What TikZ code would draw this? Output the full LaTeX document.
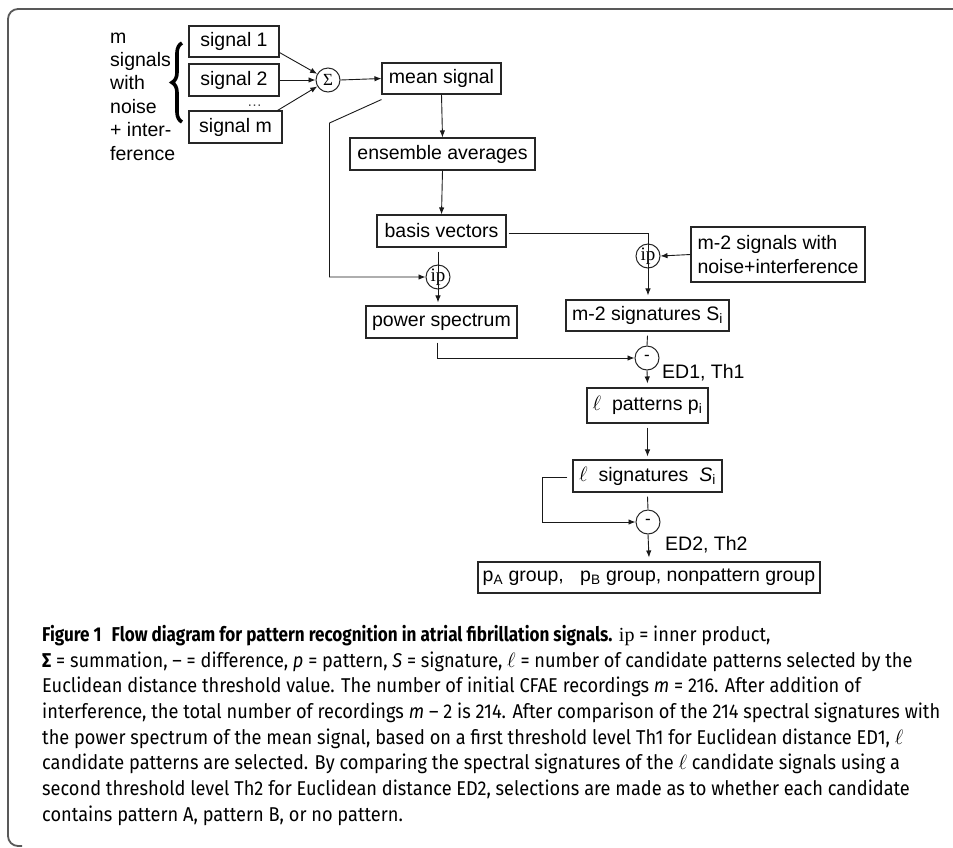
\documentclass[tikz,border=0pt]{standalone}
\usepackage{fontspec}
\setmainfont{Liberation Sans}
\newfontfamily\capfont{Fira Sans}[FakeStretch=0.91]
\newfontfamily\capboldfam{Fira Sans}[FakeStretch=0.855]
\newfontfamily\serifcap{Liberation Serif}
\usetikzlibrary{arrows.meta,decorations.pathreplacing,calc}
\tikzset{
  diag/.style={font=\fontsize{19.5}{23.4}\selectfont},
  box/.style={diag,draw=black!85,line width=1.1pt,inner sep=0pt,rectangle},
  op/.style={draw=black!85,line width=1pt,circle,minimum size=24pt,inner sep=0pt},
  conn/.style={line width=0.9pt,draw=black!90},
  arr/.style={conn,-{Latex[length=7pt,width=5.5pt]}},
  frame/.style={draw=black!65,line width=1.8pt},
}
\begin{document}
\begin{tikzpicture}[x=1pt,y=-1pt]
\useasboundingbox (0,0) rectangle (953,847);
% frame
\draw[frame,rounded corners=10pt] (953,9) -- (8,9) -- (8,846) -- (22,846);
% left label and brace
\node[diag,anchor=north west,align=left,inner sep=0pt] (lbl) at (110,32.5)
  {m\\signals\\with\\noise\\+ inter-\\ference};
\draw[line width=3.6pt,decorate,decoration={brace,amplitude=10pt}] (182,122) -- (182,43) coordinate (bracetop);
% signal boxes
\node[box,minimum width=90pt,minimum height=31pt] (s1) at (234,41.5) {signal 1};
\node[box,minimum width=90pt,minimum height=32pt] (s2) at (234,80) {signal 2};
\node[box,minimum width=93pt,minimum height=32pt] (sm) at (235.5,127) {signal m};
\node[font=\fontsize{15}{15}\selectfont,text=black!70,inner sep=0pt,text height=2pt,text depth=0pt,anchor=base] (dots) at (254.5,106) {…};
\node[op,font=\serifcap\fontsize{17}{17}\selectfont] (sum) at (328,80) {Σ};
\node[box,minimum width=119pt,minimum height=31pt] (mean) at (441.5,78.5) {mean signal};
\node[box,minimum width=185pt,minimum height=32pt] (ens) at (442.5,154) {ensemble averages};
\node[box,minimum width=129pt,minimum height=32pt] (basis) at (441.5,231) {basis vectors};
\node[op,font=\serifcap\fontsize{19}{19}\selectfont] (ip1) at (438,277) {ip};
\node[box,minimum width=151pt,minimum height=32pt] (power) at (441.5,322) {power spectrum};
\node[op,font=\serifcap\fontsize{19}{19}\selectfont] (ip2) at (648,256) {ip};
\node[box,minimum width=174pt,minimum height=55pt,align=left] (m2in) at (778,254.5)
  {m-2 signals with\\noise+interference};
\node[box,minimum width=163pt,minimum height=31pt] (m2sig) at (647.5,315.5) {m-2 signatures S\textsubscript{i}};
\node[op,font=\fontsize{17}{17}\selectfont] (min1) at (647,358) {-};
\node[diag,anchor=west,inner sep=0pt] (ed1) at (662,373) {ED1, Th1};
\node[box,minimum width=121pt,minimum height=35pt] (pat) at (647.5,405.5) {$\ell$\ \ patterns p\textsubscript{i}};
\node[box,minimum width=149pt,minimum height=32pt] (lsig) at (647.5,476) {$\ell$\ \ signatures\ \ \textit{S}\textsubscript{i}};
\node[op,font=\fontsize{17}{17}\selectfont] (min2) at (648,522) {-};
\node[diag,anchor=west,inner sep=0pt] (ed2) at (665,545) {ED2, Th2};
\node[box,minimum width=342pt,minimum height=31pt] (final) at (649,577.5)
  {p\textsubscript{A} group,\ \ \ p\textsubscript{B} group, nonpattern group};
% connectors
\draw[arr] ($(s1.south east)+(0,-5)$) -- (sum);
\draw[arr] (s2.east) -- (sum.west);
\draw[arr] ($(sm.north east)+(-5,0)$) -- (sum);
\draw[arr] (sum.east) -- (mean.west);
\draw[arr] (mean.south) -- (ens.north);
\draw[arr] (ens.south) -- (basis.north);
\coordinate (d1) at (329.5,123);
\draw[arr] ($(mean.south west)+(0,5)$) -- (d1) |- (ip1.west);
\draw[arr] ($(ip1.north |- basis.south)+(0,4)$) -- ($(ip1.south |- power.north)+(0,-3)$);
\draw[arr] ($(basis.east)+(2,2)$) -| ($(ip2.south |- m2sig.north)+(0,-4)$);
\draw[arr] (m2in.west) -- (ip2.east);
\draw[conn] ($(m2sig.south)+(0,4)$) -- (min1.north);
\draw[arr] ($(power.south)+(-4.5,4)$) |- (min1.west);
\draw[arr] (min1.south) -- ($(pat.north)+(0,-4)$);
\draw[arr] ($(pat.south)+(0,4)$) -- ($(lsig.north)+(0,-3)$);
\draw[conn] ($(lsig.south)+(0,4)$) -- (min2.north);
\coordinate (lp) at (542,477);
\draw[arr] ($(lsig.west)+(-5,1)$) -- (lp) |- (min2.west);
\draw[arr] (min2.south) -- ($(final.north)+(0,-4)$);
% caption
\node[anchor=north west,align=left,inner sep=0pt,
  font=\capfont\fontsize{20}{25.7}\selectfont] (cap) at (42,625) {%
{\capboldfam\bfseries Figure 1\enspace Flow diagram for pattern recognition in atrial fibrillation signals.} {\serifcap ip} = inner product,\\
\textbf{Σ} = summation, – = difference, \textit{p} = pattern, \textit{S} = signature, $\ell$ = number of candidate patterns selected by the\\
Euclidean distance threshold value. The number of initial CFAE recordings \textit{m} = 216. After addition of\\
interference, the total number of recordings \textit{m} – 2 is 214. After comparison of the 214 spectral signatures with\\
the power spectrum of the mean signal, based on a first threshold level Th1 for Euclidean distance ED1, $\ell$\\
candidate patterns are selected. By comparing the spectral signatures of the $\ell$ candidate signals using a\\
second threshold level Th2 for Euclidean distance ED2, selections are made as to whether each candidate\\
contains pattern A, pattern B, or no pattern.};
\end{tikzpicture}
\end{document}
